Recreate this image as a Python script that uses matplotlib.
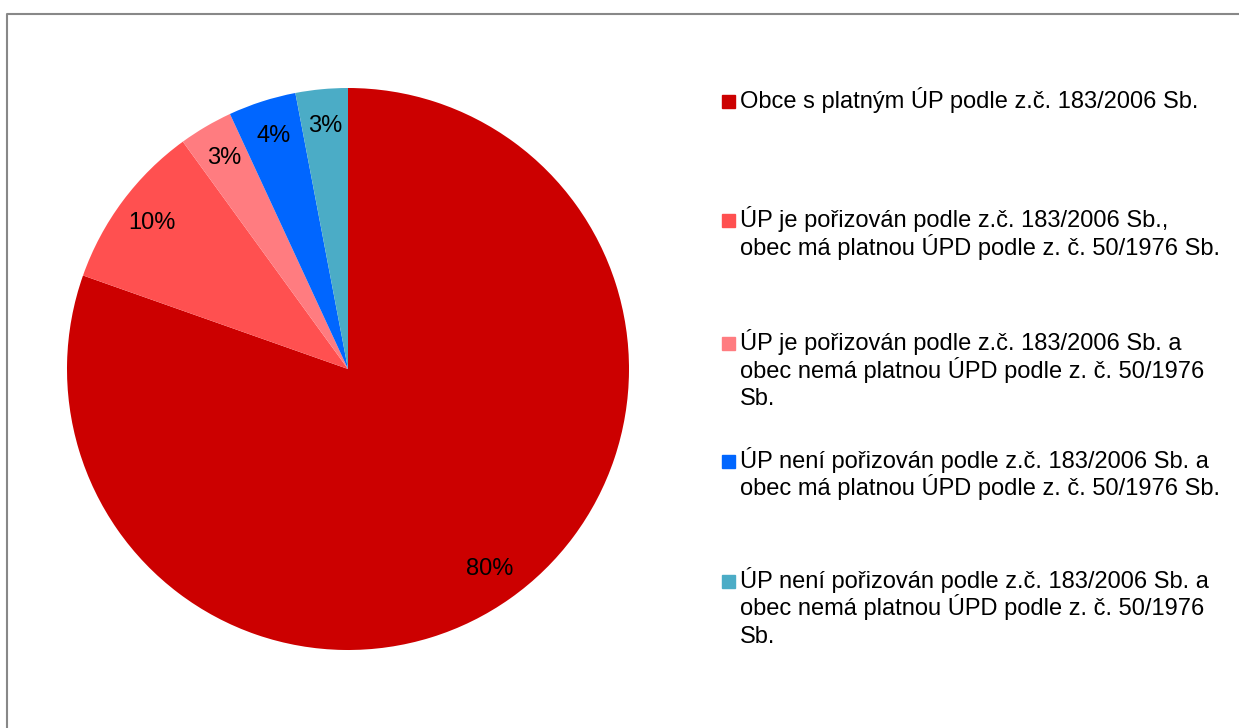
import matplotlib.pyplot as plt
from matplotlib.patches import Rectangle
from matplotlib.lines import Line2D

plt.rcParams['font.family'] = ['Liberation Sans', 'DejaVu Sans']

# data (share in %)
labels = [
    'Obce s platným ÚP podle z.č. 183/2006 Sb.',
    'ÚP je pořizován podle z.č. 183/2006 Sb.,\nobec má platnou ÚPD podle z. č. 50/1976 Sb.',
    'ÚP je pořizován podle z.č. 183/2006 Sb. a\nobec nemá platnou ÚPD podle z. č. 50/1976\nSb.',
    'ÚP není pořizován podle z.č. 183/2006 Sb. a\nobec má platnou ÚPD podle z. č. 50/1976 Sb.',
    'ÚP není pořizován podle z.č. 183/2006 Sb. a\nobec nemá platnou ÚPD podle z. č. 50/1976\nSb.',
]
values = [80.4, 9.6, 3.1, 3.9, 3.0]
colors = ['#CC0000', '#FF5050', '#FF7C80', '#0066FF', '#4BACC6']

W, H = 1239, 728
fig = plt.figure(figsize=(W / 100, H / 100), dpi=100)

# pie, centre (348, 369) px, radius 281 px
cx, cy, r = 348, 369, 281
ax = fig.add_axes([(cx - r) / W, (H - cy - r) / H, 2 * r / W, 2 * r / H])
ax.pie(values, colors=colors, startangle=90, counterclock=False, radius=1,
       autopct=lambda p: '%d%%' % round(p), pctdistance=0.87,
       textprops={'fontsize': 17, 'color': 'black'})
ax.set_xlim(-1, 1)
ax.set_ylim(-1, 1)
ax.set_aspect('equal')
ax.axis('off')

# legend drawn by hand, one text per line so spacing stays even
baselines = [108, 227, 350, 468, 588]
step = 27.5
for lab, col, y in zip(labels, colors, baselines):
    fig.patches.append(Rectangle((722 / W, 1 - y / H), 13 / W, 13 / H,
                                 transform=fig.transFigure, color=col))
    for i, line in enumerate(lab.split('\n')):
        fig.text(740 / W, 1 - (y + i * step) / H, line, fontsize=17,
                 va='baseline', ha='left')

# chart border (partly off-canvas)
fig.lines.append(Line2D([7 / W, 7 / W, 1.0], [0.0, 1 - 14 / H, 1 - 14 / H],
                        transform=fig.transFigure, color='#888888', lw=1.5))

fig.savefig('out.png', dpi=100)
